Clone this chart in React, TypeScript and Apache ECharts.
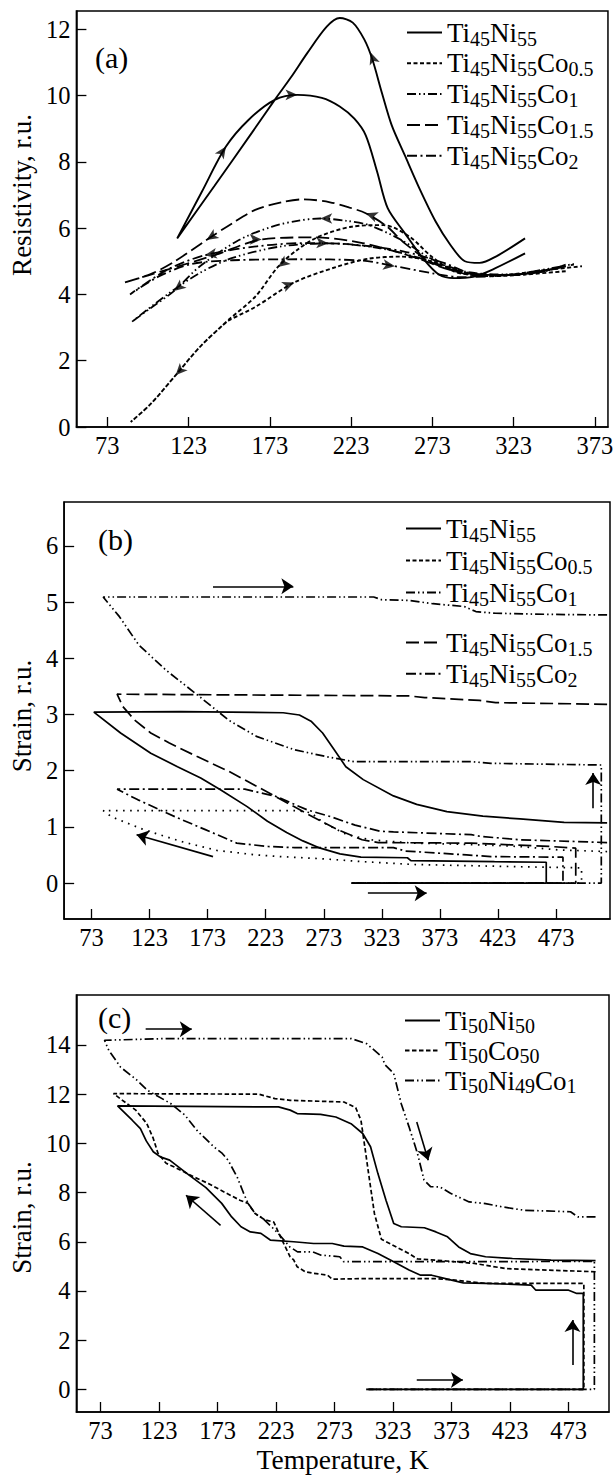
import React, { useEffect, useRef } from "react";
import * as echarts from "echarts";

const FONT = "'Liberation Serif', 'Times New Roman', serif";

// ---------- names & ticks ----------
const namesA = ["Ti45Ni55", "Ti45Ni55Co0.5", "Ti45Ni55Co1", "Ti45Ni55Co1.5", "Ti45Ni55Co2"];
const namesC = ["Ti50Ni50", "Ti50Co50", "Ti50Ni49Co1"];
const tempTicksA = [73, 123, 173, 223, 273, 323, 373];
const tempTicksBC = [73, 123, 173, 223, 273, 323, 373, 423, 473];
const resTicks = [0, 2, 4, 6, 8, 10, 12];
const strainTicksB = [0, 1, 2, 3, 4, 5, 6];
const strainTicksC = [0, 2, 4, 6, 8, 10, 12, 14];

// ---------- panel (a): resistivity loops [T, R] ----------
const a_TiNi = [[330,5.24],[310,4.75],[298,4.53],[286,4.49],[277,4.6],[268,5.04],[256,5.85],[245.5,6.6],[239,7.7],[232,8.8],[225,9.3],[216,9.67],[205,9.93],[190,10.02],[176,9.87],[160,9.27],[146,8.46],[131,7.08],[116,5.69],[139,7.28],[162,8.88],[176,9.87],[186,10.55],[196,11.28],[208,12.08],[216,12.34],[224,12.2],[231,11.7],[236,11.1],[242,10.07],[248,9.1],[256,8.2],[265,7.2],[275,6.2],[284,5.5],[293,5.0],[302,4.95],[312,5.14],[330,5.69]];
const a_Co05 = [[355,4.7],[330,4.6],[310,4.55],[293.5,4.63],[273.5,4.99],[253.6,5.14],[234,5.08],[214,4.83],[188,4.36],[164,3.62],[148,3.22],[144,3.07],[130,2.42],[115,1.56],[100,0.71],[87.4,0.15],[100,0.71],[115,1.56],[130,2.42],[144,3.07],[148,3.25],[164,3.93],[178,4.83],[190,5.35],[203,5.74],[223,6.04],[243,6.09],[259,5.74],[272.5,5.14],[286.5,4.69],[302,4.58],[320,4.6],[340,4.72],[365,4.85]];
const a_Co1 = [[355,4.9],[340,4.68],[310,4.58],[290,4.7],[265,5.1],[240,5.4],[209,5.54],[180,5.45],[150,5.1],[130,4.65],[110,4.0],[88,3.17],[100,3.6],[114,4.1],[130,4.85],[154,5.64],[174,6.04],[190,6.22],[204,6.29],[220,6.22],[234,6.09],[254,5.64],[274,5.03],[294,4.68],[320,4.6],[345,4.78],[360,4.92]];
const a_Co15 = [[350,4.8],[330,4.62],[300,4.58],[285,4.72],[260,5.15],[230,5.55],[200,5.72],[168,5.66],[140,5.2],[110,4.75],[83,4.35],[100,4.62],[114,4.98],[134,5.64],[150,6.15],[164,6.55],[180,6.78],[194,6.87],[210,6.78],[222,6.62],[232,6.45],[245,6.05],[256,5.54],[274,4.93],[294,4.64],[320,4.58],[345,4.75],[360,4.9]];
const a_Co2 = [[352,4.82],[340,4.68],[310,4.55],[290,4.52],[274,4.63],[250,4.85],[230,5.02],[190,5.06],[150,5.03],[125,4.92],[105,4.55],[87,4.0],[110,4.75],[133,5.18],[165,5.45],[195,5.55],[225,5.5],[255,5.3],[280,4.95],[300,4.6],[325,4.58],[345,4.75]];
// small arrowheads on the curves: [T, R, rotation deg]
const arrowsA = [[146,8.46,-34],[190,10.02,-90],[235,11.3,20],[232,6.45,70],[134,5.64,123],[204,6.29,90],[114,4.1,129],[209,5.54,-92],[168,5.66,-90],[250,4.85,-98],[133,5.18,100],[178,4.83,127],[115,1.56,137],[188,4.36,-68]];

// ---------- panel (b): strain [T, S] ----------
const b_TiNi = [[517,1.07],[480,1.08],[442,1.14],[410,1.19],[379,1.27],[353,1.40],[333,1.55],[307,1.84],[292,2.07],[282,2.37],[272,2.67],[262,2.88],[252,2.99],[238,3.03],[150,3.05],[75,3.04],[98,2.67],[124,2.31],[147,2.07],[167,1.87],[184,1.66],[207,1.36],[224.5,1.10],[241,0.90],[255,0.75],[270,0.62],[287,0.52],[305,0.46],[345,0.45],[348,0.40],[420,0.38],[464.6,0.37],[464.6,0],[297.5,0]];
const b_Co05 = [[517,0.56],[475,0.59],[442,0.65],[393,0.69],[350,0.71],[313,0.77],[293,0.86],[273,1.07],[262,1.25],[250,1.29],[83,1.29],[90,1.18],[118,0.95],[150,0.74],[181,0.58],[215,0.5],[236,0.47],[273,0.43],[307,0.38],[350,0.33],[442,0.29],[495,0.27],[495,0],[297,0]];
const b_Co1 = [[517,4.77],[468,4.78],[421,4.80],[404,4.83],[394,4.92],[367,4.97],[346,5.03],[323,5.04],[316,5.09],[83,5.09],[97,4.74],[113.5,4.24],[137,3.79],[164,3.35],[191,2.90],[215,2.61],[248,2.37],[275,2.25],[299,2.16],[400,2.16],[417,2.13],[512,2.10],[512,0],[297,0]];
const b_Co15 = [[517,3.18],[421,3.21],[407,3.25],[360,3.30],[346,3.33],[95,3.36],[100,3.14],[110,2.90],[124,2.67],[140,2.49],[164,2.25],[191,1.99],[218,1.69],[242,1.42],[265,1.16],[285,0.95],[306,0.77],[320,0.72],[400,0.71],[434,0.68],[468,0.65],[490,0.62],[490,0],[297,0]];
const b_Co2 = [[517,0.72],[442,0.77],[408,0.83],[400,0.86],[333,0.91],[322,0.92],[300,1.03],[279,1.18],[259,1.30],[232,1.54],[205,1.67],[95,1.67],[113,1.48],[147,1.16],[171,0.95],[198,0.71],[225,0.65],[248,0.63],[333,0.63],[343,0.57],[396,0.50],[417,0.47],[479,0.46],[479,0],[297,0]];
const arrowsB = [[[177.6,5.28],[246.8,5.28]],[[311,-0.18],[361.6,-0.18]],[[177.6,0.47],[111.8,0.86]],[[505,1.33],[505,1.96]]];

// ---------- panel (c): strain [T, S] ----------
const c_TiNi = [[496,5.23],[458,5.25],[425,5.32],[402,5.39],[389,5.52],[379,5.79],[369.5,6.20],[359.6,6.40],[349.7,6.57],[330,6.61],[323.5,6.74],[316.9,7.69],[310,8.77],[303.7,9.86],[297,10.40],[287,10.80],[274,11.07],[261,11.18],[241,11.21],[235,11.35],[225,11.48],[87.5,11.52],[100,10.94],[107,10.6],[112,10.1],[118,9.66],[124,9.45],[132,9.32],[148.6,8.71],[163,8.2],[176.5,7.56],[185,7.01],[193,6.61],[201,6.4],[210,6.34],[218,6.07],[238,6.0],[255,5.93],[271,5.93],[281,5.82],[297,5.79],[310,5.52],[323.5,5.19],[336.6,4.85],[346.5,4.64],[356,4.64],[373,4.44],[383,4.33],[402,4.31],[441,4.24],[445,4.03],[473,4.03],[480,3.9],[485.5,3.9],[485.5,0],[300,0]];
const c_TiCo = [[496,4.78],[419,4.91],[392.5,5.12],[360,5.25],[343.8,5.3],[336.6,5.52],[320,5.93],[313,6.1],[307,7.15],[302,8.78],[298.8,9.86],[295.5,10.94],[291,11.45],[281,11.68],[235,11.75],[222,11.82],[208,12.0],[84,12.02],[103,11.35],[112.4,10.81],[118,10.2],[122,9.6],[129,9.19],[136,9.04],[152.5,8.64],[165,8.37],[175.5,8.10],[192,7.69],[199,7.56],[205,7.15],[213,6.9],[221,6.8],[228,6.07],[235,5.39],[238,5.26],[241,4.98],[248,4.78],[255,4.72],[267,4.64],[271,4.48],[294,4.5],[360,4.5],[376,4.44],[402,4.31],[486,4.31],[486,0],[300,0]];
const c_TiNiCo = [[496,7.01],[481,7.01],[474.6,7.22],[435,7.28],[416,7.42],[402,7.55],[388,7.62],[372,7.97],[363,8.23],[355,8.24],[349.4,8.51],[343.8,9.59],[336.6,10.67],[330,11.6],[323.5,12.84],[316,13.2],[313.6,13.51],[300.4,14.05],[287.3,14.26],[129.5,14.26],[76.3,14.19],[80,13.78],[90,13.1],[104,12.57],[113,12.16],[132.8,11.62],[145,11.15],[155.8,10.5],[170,9.85],[177,9.59],[182,9.31],[190,8.6],[195.3,7.96],[199,7.56],[205,7.15],[211.7,6.95],[224.8,6.34],[234.7,5.79],[241.3,5.59],[254.4,5.59],[261,5.46],[277.4,5.39],[280.7,5.19],[350,5.19],[495,5.2],[495,0],[300,0]];
const arrowsC = [[[111.5,14.64],[150.9,14.64]],[[343.2,10.87],[353,9.31]],[[175.5,6.67],[146,7.89]],[[343.2,0.38],[382.6,0.38]],[[476.3,0.99],[476.3,2.82]]];

// ---------- styles ----------
const DASH = {
  solid: "solid" as any,
  co05: [4, 2.5],
  dots: [1.6, 5.5],
  co1: [9, 3, 1.5, 3, 1.5, 3],
  co15: [13, 5],
  co2: [10, 3.5, 2, 3.5],
  c50: [4.5, 2.5],
};

const subName = (name: string) =>
  name.replace(/([A-Za-z]+)|([0-9.]+)/g, (m, a, b) => (a ? `{n|${a}}` : `{s|${b}}`));

const legendText = (lh: number) => ({
  color: "#000",
  rich: {
    n: { fontFamily: FONT, fontSize: 27, lineHeight: lh, verticalAlign: "middle", color: "#000" },
    s: { fontFamily: FONT, fontSize: 20, height: 13, lineHeight: 13, verticalAlign: "bottom", color: "#000" },
  },
});

function xAxis(gi: number, min: number, max: number, ticks: number[], name?: string) {
  return {
    gridIndex: gi, type: "value", min, max,
    name: name || "", nameLocation: "middle", nameGap: 33,
    nameTextStyle: { fontFamily: FONT, fontSize: 27.5, color: "#000" },
    axisLine: { show: true, onZero: false, lineStyle: { color: "#000", width: 1.5 } },
    axisTick: { show: true, inside: true, length: 10, customValues: ticks, lineStyle: { color: "#000", width: 1.3 } },
    axisLabel: { customValues: ticks, fontFamily: FONT, fontSize: 24.5, color: "#000", margin: 6 },
    splitLine: { show: false },
  };
}
function yAxis(gi: number, min: number, max: number, ticks: number[], name: string, padding: number[]) {
  return {
    gridIndex: gi, type: "value", min, max,
    name, nameLocation: "middle", nameGap: 28, nameRotate: 90,
    nameTextStyle: { fontFamily: FONT, fontSize: 27, color: "#000", padding },
    axisLine: { show: true, onZero: false, lineStyle: { color: "#000", width: 1.5 } },
    axisTick: { show: true, inside: true, length: 10, customValues: ticks, lineStyle: { color: "#000", width: 1.3 } },
    axisLabel: { customValues: ticks, fontFamily: FONT, fontSize: 24.5, color: "#000", margin: 6 },
    splitLine: { show: false },
  };
}
function line(name: string, gi: number, data: number[][], dash: any, smooth: number | boolean, width = 1.7) {
  return {
    type: "line", name, xAxisIndex: gi, yAxisIndex: gi, data,
    showSymbol: false, symbol: "none", smooth, silent: true,
    lineStyle: { color: "#000", width, type: dash },
    itemStyle: { color: "#000" },
  };
}
function bigArrows(gi: number, arr: number[][][]) {
  return {
    type: "lines", coordinateSystem: "cartesian2d", xAxisIndex: gi, yAxisIndex: gi, silent: true,
    symbol: ["none", "arrow"], symbolSize: 12,
    lineStyle: { color: "#000", width: 1.6, curveness: 0, opacity: 1 },
    data: arr.map((c) => ({ coords: c })),
  };
}

function legendCfg(data: string[], left: number, top: number, gap: number, lh: number) {
  return {
    data, left, top, orient: "vertical", padding: 0, itemGap: gap,
    itemWidth: 35, itemHeight: 14, selectedMode: false,
    itemStyle: { opacity: 0, color: "rgba(0,0,0,0)", borderColor: "rgba(0,0,0,0)", borderWidth: 0 },
    formatter: subName, textStyle: legendText(lh),
  };
}

function buildOption() {
  return {
    animation: false,
    backgroundColor: "#fff",
    grid: [
      { left: 63, top: 11, width: 547, height: 416, show: true, borderColor: "#000", borderWidth: 1.5 },
      { left: 63, top: 502, width: 547, height: 417, show: true, borderColor: "#000", borderWidth: 1.5 },
      { left: 65, top: 995, width: 544, height: 417, show: true, borderColor: "#000", borderWidth: 1.5 },
    ],
    xAxis: [
      xAxis(0, 54, 381, tempTicksA),
      xAxis(1, 49.4, 519.5, tempTicksBC),
      xAxis(2, 52.3, 507.5, tempTicksBC, "Temperature, K"),
    ],
    yAxis: [
      yAxis(0, 0, 12.55, resTicks, "Resistivity, r.u.", [0, 0, 0, 48]),
      yAxis(1, -0.64, 6.78, strainTicksB, "Strain, r.u.", [0, 11, 0, 0]),
      yAxis(2, -0.92, 16.03, strainTicksC, "Strain, r.u.", [0, 28, 0, 0]),
    ],
    legend: [
      legendCfg(namesA, 406, 19, 1.3, 25),
      legendCfg(namesA.slice(0, 3), 405, 515, 2.5, 25),
      legendCfg(namesA.slice(3), 405, 629, 1.7, 25),
      legendCfg(namesC, 404, 1007, 1, 24),
    ],
    graphic: [
      { type: "text", left: 95, top: 42, style: { text: "(a)", font: `30px ${FONT}`, fill: "#000" } },
      { type: "text", left: 98, top: 524, style: { text: "(b)", font: `30px ${FONT}`, fill: "#000" } },
      { type: "text", left: 98, top: 1002, style: { text: "(c)", font: `30px ${FONT}`, fill: "#000" } },
    ],
    series: [
      line(namesA[0], 0, a_TiNi, DASH.solid, 0.3, 1.9),
      line(namesA[1], 0, a_Co05, DASH.co05, 0.3, 1.9),
      line(namesA[2], 0, a_Co1, DASH.co1, 0.3, 1.8),
      line(namesA[3], 0, a_Co15, DASH.co15, 0.3, 1.8),
      line(namesA[4], 0, a_Co2, DASH.co2, 0.3, 1.8),
      {
        type: "scatter", name: "arrowsA", xAxisIndex: 0, yAxisIndex: 0, silent: true,
        symbol: "arrow", symbolSize: [8, 12], itemStyle: { color: "#000" },
        data: arrowsA.map(([x, y, r]) => ({ value: [x, y], symbolRotate: r })),
      },
      line(namesA[0], 1, b_TiNi, DASH.solid, false),
      line(namesA[1], 1, b_Co05, DASH.dots, false, 1.7),
      line(namesA[2], 1, b_Co1, DASH.co1, false),
      line(namesA[3], 1, b_Co15, DASH.co15, false),
      line(namesA[4], 1, b_Co2, DASH.co2, false),
      bigArrows(1, arrowsB),
      line(namesC[0], 2, c_TiNi, DASH.solid, false),
      line(namesC[1], 2, c_TiCo, DASH.c50, false),
      line(namesC[2], 2, c_TiNiCo, DASH.co1, false),
      bigArrows(2, arrowsC),
    ],
  };
}

export default function App() {
  const ref = useRef<HTMLDivElement>(null);
  useEffect(() => {
    const chart = echarts.init(ref.current as HTMLDivElement, null, { renderer: "svg" });
    chart.setOption(buildOption() as any);
    return () => chart.dispose();
  }, []);
  return (
    <div
      ref={ref}
      style={{ position: "absolute", left: 0, top: 0, width: 616, height: 1476, background: "#fff" }}
    />
  );
}
